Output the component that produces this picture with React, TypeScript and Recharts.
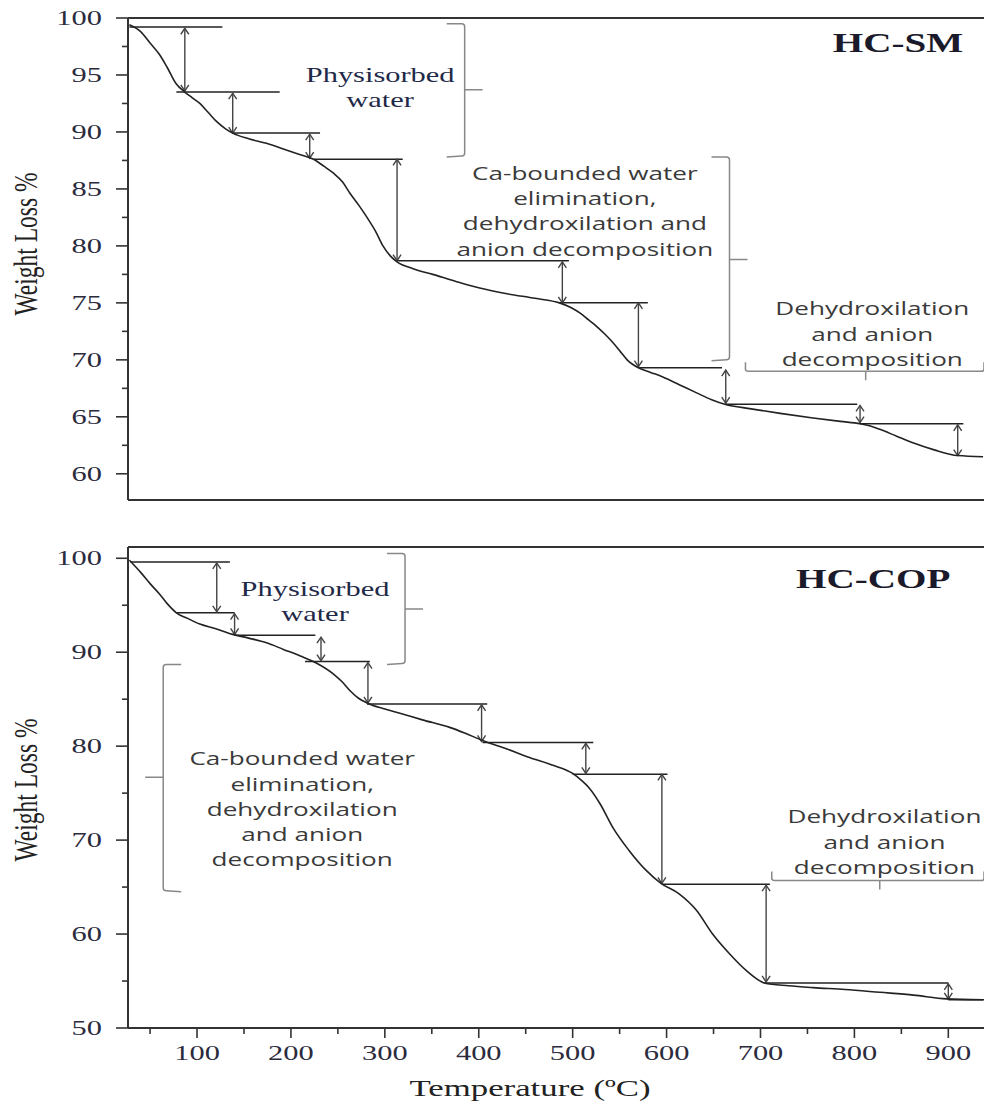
import React from 'react';
import { LineChart, Line, XAxis, YAxis, ReferenceLine, ReferenceDot } from 'recharts';

// HC-SM thermogram (temperature °C, weight %)
const smTemp = [28, 40, 50, 60, 68, 78, 87, 95, 103, 112, 121, 130, 138, 155, 174, 192, 210, 224, 235, 245, 255, 263, 272, 281, 290, 298, 306, 313, 330, 351, 375, 401, 430, 460, 486, 498, 508, 517, 526, 535, 543, 551, 558, 570, 583, 596, 614, 632, 648, 662, 690, 721, 756, 785, 806, 817, 827, 845, 863, 885, 910, 937];
const smWeight = [99.4, 98.8, 97.8, 96.8, 95.7, 94.2, 93.5, 93.0, 92.5, 91.7, 90.9, 90.3, 89.9, 89.4, 89.0, 88.5, 88.0, 87.6, 87.0, 86.4, 85.6, 84.6, 83.6, 82.5, 81.3, 80.0, 79.1, 78.6, 78.0, 77.5, 76.9, 76.3, 75.8, 75.4, 75.0, 74.6, 74.1, 73.5, 72.9, 72.2, 71.5, 70.7, 70.0, 69.3, 68.9, 68.5, 67.8, 67.1, 66.5, 66.1, 65.7, 65.3, 64.9, 64.6, 64.4, 64.2, 63.9, 63.3, 62.7, 62.1, 61.6, 61.5];

// HC-COP thermogram
const copTemp = [28, 40, 50, 60, 68, 78, 90, 103, 120, 138, 155, 174, 192, 210, 228, 245, 255, 263, 272, 281, 298, 316, 340, 369, 385, 404, 430, 454, 478, 500, 510, 518, 529, 543, 560, 578, 594, 613, 632, 649, 667, 685, 704, 730, 756, 790, 827, 863, 898, 937];
const copWeight = [99.8, 98.5, 97.3, 96.2, 95.2, 94.2, 93.6, 93.0, 92.5, 91.9, 91.5, 91.0, 90.3, 89.6, 88.8, 87.7, 86.8, 85.9, 85.1, 84.6, 84.0, 83.5, 82.8, 82.0, 81.4, 80.6, 79.7, 78.8, 78.0, 77.1, 76.3, 75.5, 73.9, 71.3, 68.9, 66.8, 65.4, 64.3, 62.5, 60.0, 57.9, 56.1, 54.8, 54.5, 54.3, 54.1, 53.8, 53.5, 53.1, 53.0];

const smTicks = [60, 62.5, 65, 67.5, 70, 72.5, 75, 77.5, 80, 82.5, 85, 87.5, 90, 92.5, 95, 97.5, 100];
const copTicks = [50, 55, 60, 65, 70, 75, 80, 85, 90, 95, 100];
const tempTicks = [50, 100, 150, 200, 250, 300, 350, 400, 450, 500, 550, 600, 650, 700, 750, 800, 850, 900];

// step guide lines [tStart, tEnd, weight]
const smSteps = [[28, 127, 99.2], [78, 188, 93.5], [138, 231, 89.9], [224, 319, 87.6], [313, 496, 78.7], [486, 580, 75.0], [570, 659, 69.3], [662, 803, 66.1], [806, 916, 64.4]];
const copSteps = [[29, 135, 99.6], [78, 140, 94.2], [140, 226, 91.8], [215, 284, 89.0], [281, 409, 84.5], [404, 522, 80.4], [500, 601, 77.0], [595, 710, 65.3], [704, 900, 54.8], [900, 938, 53.0]];

// weight-loss arrows [t, wTop, wBottom]
const smArrows = [[87, 99.1, 93.6], [138, 93.4, 89.9], [220, 89.8, 87.7], [313, 87.6, 78.7], [489, 78.6, 75.0], [570, 75.0, 69.4], [663, 69.1, 66.2], [806, 66.0, 64.5], [910, 64.3, 61.6]];
const copArrows = [[121, 99.5, 94.3], [140, 94.1, 91.9], [232, 91.6, 89.1], [282, 88.9, 84.6], [403, 84.4, 80.5], [514, 80.3, 77.1], [595, 77.0, 65.4], [706, 65.2, 54.9], [900, 54.7, 53.1]];

// vertical braces [t, wFrom, wTo, wMid, side]
const smBraces = [[385, 99.5, 87.9, 93.7, 1], [667, 87.8, 70.0, 78.8, 1]];
const copBraces = [[321.5, 100.5, 88.8, 94.6, 1], [64, 88.7, 64.6, 76.7, -1]];
// horizontal braces [tFrom, tTo, w, tMid]
const smHBraces = [[684, 938, 69.0, 812]];
const copHBraces = [[712, 938, 65.7, 827]];

const smNotes = [
  { t: 295, w: 95.0, lines: ['Physisorbed', 'water'], serif: true },
  { t: 513, w: 86.4, lines: ['Ca-bounded water', 'elimination,', 'dehydroxilation and', 'anion decomposition'], serif: false },
  { t: 819, w: 74.5, lines: ['Dehydroxilation', 'and anion', 'decomposition'], serif: false },
];
const copNotes = [
  { t: 225.6, w: 96.7, lines: ['Physisorbed', 'water'], serif: true },
  { t: 212, w: 78.7, lines: ['Ca-bounded water', 'elimination,', 'dehydroxilation', 'and anion', 'decomposition'], serif: false },
  { t: 832, w: 72.5, lines: ['Dehydroxilation', 'and anion', 'decomposition'], serif: false },
];

const SX = 1.45;
const SERIF = '"Liberation Serif", "Times New Roman", serif';
const SANS = '"Open Sans", "Liberation Sans", sans-serif';
const INK = '#2b2b3d';

const smData = smTemp.map((t, i) => ({ t, w: smWeight[i] }));
const copData = copTemp.map((t, i) => ({ t, w: copWeight[i] }));

function YTick(props: any) {
  const { x, y, payload, step } = props;
  const v = payload.value;
  const isMajor = Math.abs(v / step - Math.round(v / step)) < 1e-6;
  return (
    <g>
      <line x1={x - (isMajor ? 12 : 6)} y1={y} x2={x} y2={y} stroke="#333" strokeWidth={1.6} />
      {isMajor && (
        <text transform={`translate(${x - 26},${y + 7}) scale(${SX},1)`} textAnchor="end"
          fontFamily={SERIF} fontSize={21} fill={INK}>{v}</text>
      )}
    </g>
  );
}

function XTick(props: any) {
  const { x, y, payload } = props;
  const v = payload.value;
  const isMajor = v % 100 === 0;
  return (
    <g>
      <line x1={x} y1={y} x2={x} y2={y + (isMajor ? 10 : 6)} stroke="#333" strokeWidth={1.6} />
      {isMajor && (
        <text transform={`translate(${x},${y + 32}) scale(${SX},1)`} textAnchor="middle"
          fontFamily={SERIF} fontSize={21} fill={INK}>{v}</text>
      )}
    </g>
  );
}

const yTitle = (cy: number) => () => (
  <text transform={`translate(37,${cy}) rotate(-90) scale(1,${SX})`} textAnchor="middle"
    fontFamily={SERIF} fontSize={23.5} fill="#222">Weight Loss %</text>
);

const arrowShape = (p: any) => {
  const x = p.x1;
  const top = Math.min(p.y1, p.y2);
  const bot = Math.max(p.y1, p.y2);
  return (
    <g stroke="#444" strokeWidth={1.4} fill="none">
      <line x1={x} y1={top} x2={x} y2={bot} />
      <path d={`M${x - 4},${top + 6}L${x},${top}L${x + 4},${top + 6}M${x - 4},${bot - 6}L${x},${bot}L${x + 4},${bot - 6}`} />
    </g>
  );
};

const vBrace = (frac: number, side: number) => (p: any) => {
  const x = p.x1;
  const y1 = Math.min(p.y1, p.y2);
  const y2 = Math.max(p.y1, p.y2);
  const ym = y1 + frac * (y2 - y1);
  const c = -side * 18;
  const d = `M${x + c},${y1}L${x - side * 3},${y1}Q${x},${y1} ${x},${y1 + 3}L${x},${y2 - 3}Q${x},${y2} ${x - side * 3},${y2}L${x + c},${y2 + 1}M${x},${ym}L${x + side * 18},${ym}`;
  return <path d={d} stroke="#888" strokeWidth={1.5} fill="none" />;
};

const hBrace = (frac: number) => (p: any) => {
  const x1 = Math.min(p.x1, p.x2);
  const x2 = Math.max(p.x1, p.x2);
  const y = p.y1;
  const xm = x1 + frac * (x2 - x1);
  const d = `M${x1},${y - 9}L${x1},${y - 2}Q${x1},${y} ${x1 + 3},${y}L${x2 - 3},${y}Q${x2},${y} ${x2},${y - 2}L${x2},${y - 9}M${xm},${y}L${xm},${y + 9}`;
  return <path d={d} stroke="#888" strokeWidth={1.5} fill="none" />;
};

const noteShape = (lines: string[], serif: boolean) => (p: any) => (
  <g>
    {lines.map((l, i) => (
      <text key={i} transform={`translate(${p.cx},${p.cy + i * 25.3}) scale(${SX},1)`} textAnchor="middle"
        dominantBaseline="central" fontFamily={serif ? SERIF : SANS} fontSize={serif ? 21 : 18}
        fill={serif ? '#1f2a48' : '#3a3a3a'}>{l}</text>
    ))}
  </g>
);

const titleShape = (label: string) => (p: any) => (
  <text transform={`translate(${p.cx},${p.cy}) scale(${SX},1)`} textAnchor="middle" dominantBaseline="central"
    fontFamily={SERIF} fontSize={27} fontWeight="bold" fill="#1a1a2a">{label}</text>
);

function annotations(steps: number[][], arrows: number[][], braces: number[][], hbraces: number[][], notes: any[]) {
  return [
    ...steps.map(([a, b, w], i) => (
      <ReferenceLine key={'s' + i} segment={[{ x: a, y: w }, { x: b, y: w }]} stroke="#222" strokeWidth={1.5} ifOverflow="visible" />
    )),
    ...arrows.map(([t, hi, lo], i) => (
      <ReferenceLine key={'a' + i} segment={[{ x: t, y: hi }, { x: t, y: lo }]} shape={arrowShape} ifOverflow="visible" />
    )),
    ...braces.map(([t, from, to, mid, side], i) => (
      <ReferenceLine key={'b' + i} segment={[{ x: t, y: from }, { x: t, y: to }]}
        shape={vBrace((from - mid) / (from - to), side)} ifOverflow="visible" />
    )),
    ...hbraces.map(([a, b, w, mid], i) => (
      <ReferenceLine key={'h' + i} segment={[{ x: a, y: w }, { x: b, y: w }]}
        shape={hBrace((mid - a) / (b - a))} ifOverflow="visible" />
    )),
    ...notes.map((n, i) => (
      <ReferenceDot key={'n' + i} x={n.t} y={n.w} r={0} shape={noteShape(n.lines, n.serif)} ifOverflow="visible" />
    )),
  ];
}

const xDomain = [26.5, 938];

export default function App() {
  return (
    <div style={{ position: 'absolute', left: 0, top: 0, width: 984, height: 1101, background: '#fff', overflow: 'hidden' }}>
      <div style={{ position: 'absolute', left: 0, top: 0 }}>
        <LineChart width={984} height={520} data={smData} margin={{ top: 18, right: 0, bottom: 0, left: 0 }}>
          <XAxis dataKey="t" type="number" domain={xDomain} allowDataOverflow height={20}
            tick={false} tickLine={false} axisLine={{ stroke: '#333', strokeWidth: 2 }} />
          <YAxis type="number" domain={[57.7, 100]} allowDataOverflow width={128} ticks={smTicks} interval={0}
            tickSize={0} tickMargin={0} tickLine={false} tick={<YTick step={5} />}
            axisLine={{ stroke: '#333', strokeWidth: 2 }} label={yTitle(244)} />
          <ReferenceLine y={100} stroke="#333" strokeWidth={2} ifOverflow="visible" />
          {annotations(smSteps, smArrows, smBraces, smHBraces, smNotes)}
          <ReferenceDot x={846.5} y={97.8} r={0} shape={titleShape('HC-SM')} ifOverflow="visible" />
          <Line type="monotone" dataKey="w" stroke="#222" strokeWidth={1.6} dot={false} isAnimationActive={false} />
        </LineChart>
      </div>
      <div style={{ position: 'absolute', left: 0, top: 520 }}>
        <LineChart width={984} height={581} data={copData} margin={{ top: 27, right: 0, bottom: 0, left: 0 }}>
          <XAxis dataKey="t" type="number" domain={xDomain} allowDataOverflow height={73} ticks={tempTicks} interval={0}
            tickSize={0} tickMargin={0} tickLine={false} tick={<XTick />}
            axisLine={{ stroke: '#333', strokeWidth: 2 }}
            label={() => (
              <text transform={`translate(530,576) scale(${SX},1)`} textAnchor="middle"
                fontFamily={SERIF} fontSize={24} fill="#222">Temperature (ºC)</text>
            )} />
          <YAxis type="number" domain={[50, 101.2]} allowDataOverflow width={128} ticks={copTicks} interval={0}
            tickSize={0} tickMargin={0} tickLine={false} tick={<YTick step={10} />}
            axisLine={{ stroke: '#333', strokeWidth: 2 }} label={yTitle(270)} />
          <ReferenceLine y={101.2} stroke="#333" strokeWidth={2} ifOverflow="visible" />
          {annotations(copSteps, copArrows, copBraces, copHBraces, copNotes)}
          <ReferenceDot x={820} y={97.8} r={0} shape={titleShape('HC-COP')} ifOverflow="visible" />
          <Line type="monotone" dataKey="w" stroke="#222" strokeWidth={1.6} dot={false} isAnimationActive={false} />
        </LineChart>
      </div>
    </div>
  );
}
